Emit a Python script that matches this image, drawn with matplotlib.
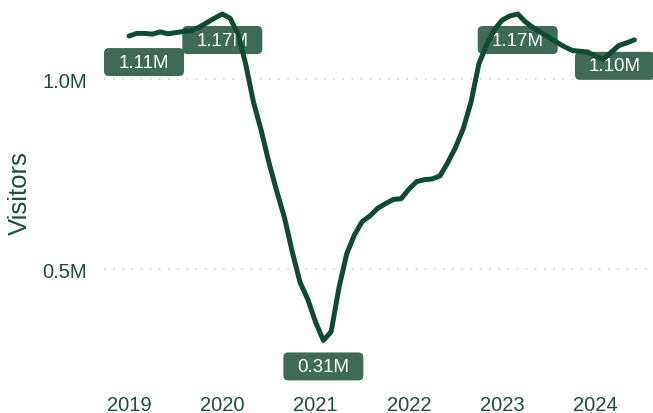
import numpy as np
import matplotlib
matplotlib.use("Agg")
import matplotlib.pyplot as plt
from matplotlib.patches import FancyBboxPatch
from matplotlib.transforms import IdentityTransform

plt.rcParams['font.family'] = ['Liberation Sans', 'DejaVu Sans']

# monthly visitors, Jan 2019 .. Jun 2024 (millions)
visitors = [
    1.113, 1.120, 1.120, 1.118, 1.124, 1.119, 1.122, 1.125, 1.127, 1.136, 1.148, 1.160,   # 2019
    1.171, 1.160, 1.120, 1.040, 0.940, 0.865, 0.780, 0.705, 0.635, 0.545, 0.465, 0.420,   # 2020
    0.360, 0.312, 0.335, 0.450, 0.540, 0.590, 0.625, 0.640, 0.660, 0.672, 0.683, 0.685,   # 2021
    0.710, 0.730, 0.735, 0.737, 0.745, 0.780, 0.820, 0.870, 0.940, 1.040, 1.090, 1.130,   # 2022
    1.155, 1.166, 1.171, 1.150, 1.135, 1.122, 1.110, 1.097, 1.085, 1.075, 1.073, 1.071,   # 2023
    1.060, 1.052, 1.070, 1.088, 1.095, 1.103,                                             # 2024
]
start_year = 2019
label_idx = [0, 12, 25, 50, 65]   # first, peaks, trough, last
year_ticks = [2019, 2020, 2021, 2022, 2023, 2024]
y_ticks = [0.5, 1.0]
y_tick_labels = ['0.5M', '1.0M']

line_col = '#0f4a33'
box_col = '#3e6a57'
text_col = '#1d4d3d'
grid_col = '#d6d0b6'

W, H = 653, 414
fig = plt.figure(figsize=(W / 100, H / 100), dpi=100)
left_px, right_px, top_px, bottom_px = 104, 653, 2, 388
ax = fig.add_axes([left_px / W, 1 - bottom_px / H,
                   (right_px - left_px) / W, (bottom_px - top_px) / H])

x = start_year + np.arange(len(visitors)) / 12.0
y = np.array(visitors)

px_per_year = 93.3
x0 = 2019 + (left_px - 129) / px_per_year
x1 = 2019 + (right_px - 129) / px_per_year
ax.set_xlim(x0, x1)
ax.set_ylim((460 - bottom_px) / 380, (460 - top_px) / 380)

ax.plot(x, y, color=line_col, lw=3.6, solid_capstyle='round', solid_joinstyle='round',
        zorder=3, clip_on=False)

ax.set_yticks(y_ticks)
ax.set_yticklabels(y_tick_labels)
ax.set_xticks(year_ticks)
ax.set_xticklabels([str(t) for t in year_ticks])
ax.tick_params(axis='both', length=0, labelsize=14.5, colors=text_col)
ax.tick_params(axis='y', pad=12)
ax.tick_params(axis='x', pad=6)
for s in ax.spines.values():
    s.set_visible(False)
ax.yaxis.grid(True, color=grid_col, lw=1.1, linestyle=(0, (1, 5)))
ax.set_axisbelow(True)

fig.text(20 / W, 1 - 193 / H, 'Visitors', rotation=90, ha='center', va='center',
         fontsize=18.5, color=text_col)

# value labels: fixed-size boxes ~26px below the point, kept inside the plot,
# drawn under the line
bw, bh = 80, 28
for i in label_idx:
    px, py = ax.transData.transform((x[i], y[i]))
    cx = min(max(px, left_px + bw / 2), right_px - bw / 2 + 2)
    cy = py - 26
    box = FancyBboxPatch((cx - bw / 2, cy - bh / 2), bw, bh,
                         boxstyle='round,pad=0,rounding_size=5',
                         fc=box_col, ec='none', transform=IdentityTransform(),
                         zorder=2.5, clip_on=False)
    ax.add_artist(box)
    ax.text(cx, cy, f"{y[i]:.2f}M", transform=IdentityTransform(), ha='center', va='center',
            fontsize=13.5, color='white', zorder=2.6, clip_on=False)

fig.savefig('out.png', dpi=100)
